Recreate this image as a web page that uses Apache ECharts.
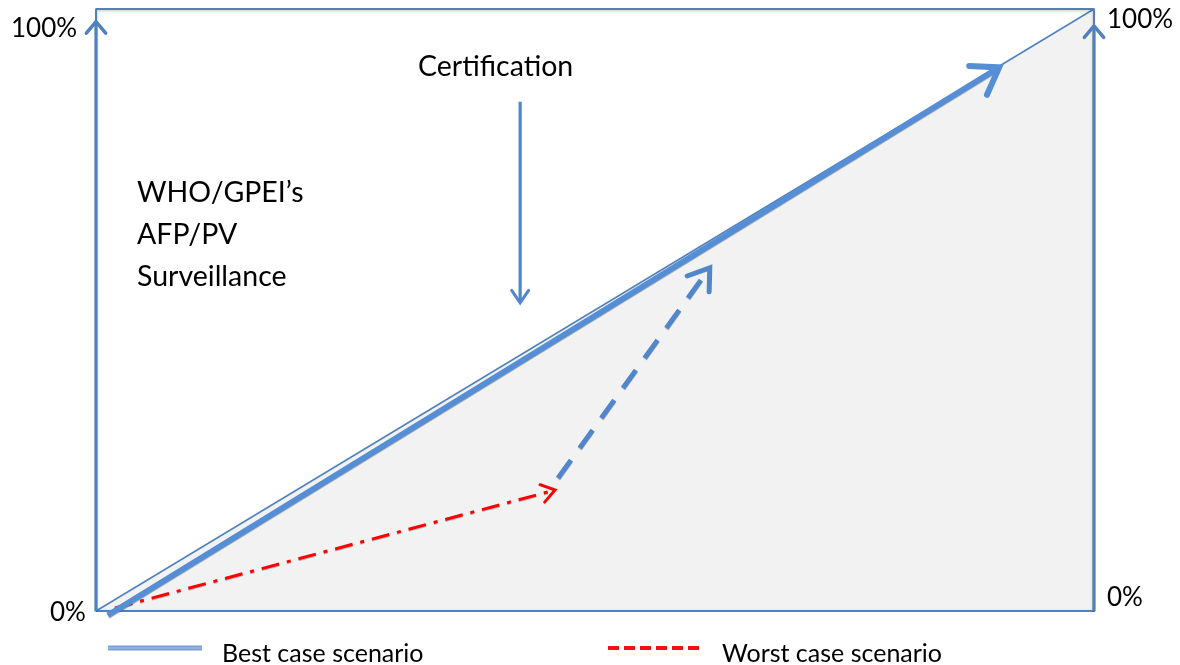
<!DOCTYPE html>
<html>
<head>
<meta charset="utf-8">
<script src="https://cdn.jsdelivr.net/npm/echarts@6/dist/echarts.min.js"></script>
<style>
html,body{margin:0;padding:0;background:#fff;}
#chart{width:1180px;height:665px;}
</style>
</head>
<body>
<div id="chart"></div>
<script>
// ---- data (percent scale, 0..100 on both axes) ----
const yTickLabels = ['0%', '100%'];
const frame = [[0, 0], [100, 0], [100, 100], [0, 100], [0, 0]];
const diagonal = [[0, 0], [100, 100]];
const axisArrows = [[0, 0, 0, 97.9], [100, 0, 100, 97.2]];
const bestCase = [[1.2, -0.7, 90.5, 90.3]];
const worstCase = [[1.9, 0.5, 46.0, 20.1]];
const recovery = [[46.3, 22.1, 61.5, 57.0]];
const certificationArrow = [[42.5, 84.6, 42.5, 51.2]];
const annotationTexts = ['Certification', 'WHO/GPEI\u2019s\nAFP/PV\nSurveillance', 'MOH\u2019s VPD/\nIDSR/Other'];
const legendNames = ['Best case scenario', 'Worst case scenario'];

const FONT = 'Lato';

function arrowSeries(name, data, style) {
  return {
    type: 'custom',
    name: name,
    clip: false,
    silent: true,
    z: style.z || 5,
    data: data,
    encode: { x: [0, 2], y: [1, 3] },
    renderItem: function (params, api) {
      const p1 = api.coord([api.value(0), api.value(1)]);
      const p2 = api.coord([api.value(2), api.value(3)]);
      const a = Math.atan2(p2[1] - p1[1], p2[0] - p1[0]);
      const L = style.head, al = style.headAngle || 0.6;
      const h1 = [p2[0] - L * Math.cos(a - al), p2[1] - L * Math.sin(a - al)];
      const h2 = [p2[0] - L * Math.cos(a + al), p2[1] - L * Math.sin(a + al)];
      const sb = style.back || style.width * 0.8;
      const end = [p2[0] - sb * Math.cos(a), p2[1] - sb * Math.sin(a)];
      return {
        type: 'group',
        children: [
          {
            type: 'line',
            shape: { x1: p1[0], y1: p1[1], x2: end[0], y2: end[1] },
            style: {
              stroke: style.color, lineWidth: style.width,
              lineDash: style.dash || null, lineCap: style.cap || 'butt',
              shadowBlur: style.shadow || 0, shadowColor: 'rgba(0,0,0,0.25)', shadowOffsetY: 1
            }
          },
          {
            type: 'polyline',
            shape: { points: [h1, p2, h2] },
            style: {
              stroke: style.headColor || style.color, lineWidth: style.headWidth || style.width,
              fill: null, lineJoin: 'miter', lineCap: 'round'
            }
          }
        ]
      };
    }
  };
}

function txt(text, x, y, size, extra) {
  return {
    type: 'text', x: x, y: y, silent: true,
    style: Object.assign({ text: text, font: size + 'px ' + FONT, fill: '#000', align: 'left', verticalAlign: 'middle' }, extra || {})
  };
}

const chart = echarts.init(document.getElementById('chart'), null, { renderer: 'canvas' });

const option = {
  animation: false,
  backgroundColor: '#ffffff',
  grid: { left: 96, right: 86, top: 9, bottom: 54, show: false },
  xAxis: { type: 'value', min: 0, max: 100, show: false },
  yAxis: { type: 'value', min: 0, max: 100, show: false },
  series: [
    {
      type: 'line', name: 'area', data: diagonal, symbol: 'none', silent: true, z: 1,
      lineStyle: { color: '#4f81bd', width: 1.5 },
      areaStyle: { color: '#f2f2f2', opacity: 1, origin: 'start' }
    },
    {
      type: 'line', name: 'frame', data: frame, symbol: 'none', silent: true, z: 2,
      lineStyle: { color: '#4f81bd', width: 2, shadowBlur: 3, shadowColor: 'rgba(0,0,0,0.25)', shadowOffsetY: 1 }
    },
    arrowSeries('axes', axisArrows, { color: '#4f81bd', width: 3, head: 15, headAngle: 0.7, headWidth: 3.5, z: 3 }),
    arrowSeries(legendNames[0], bestCase, { color: '#558ed5', width: 6, head: 30, headAngle: 0.6, headWidth: 6, back: 3, z: 6 }),
    arrowSeries(legendNames[1], worstCase, { color: '#ff0000', width: 3, head: 16, headAngle: 0.6, headWidth: 3, dash: [18, 8, 4, 8], back: 2, z: 5 }),
    arrowSeries('recovery', recovery, { color: '#4f86cc', width: 5, head: 24, headAngle: 0.6, headWidth: 5, dash: [22, 15], back: 3, z: 5 }),
    arrowSeries('certification', certificationArrow, { color: '#4f86cc', width: 3, head: 15, headAngle: 0.6, headWidth: 3, back: 2, z: 5 })
  ],
  graphic: [
    txt(yTickLabels[1], 11, 29, 26),
    txt(yTickLabels[0], 50, 613, 26),
    txt(yTickLabels[1], 1107, 20, 26),
    txt(yTickLabels[0], 1107, 598, 26),
    txt(annotationTexts[0], 418, 67, 28.5),
    txt(annotationTexts[1], 137, 235, 28.5, { lineHeight: 42 }),
    txt(annotationTexts[2], 820, 493, 28.5, { lineHeight: 45 }),
    { type: 'line', silent: true, shape: { x1: 108, y1: 648, x2: 202, y2: 648 }, style: { stroke: '#7ba0d6', lineWidth: 5 } },
    { type: 'line', silent: true, shape: { x1: 108, y1: 648, x2: 202, y2: 648 }, style: { stroke: '#a9c2e6', lineWidth: 1 } },
    txt(legendNames[0], 222, 654, 25),
    { type: 'line', silent: true, shape: { x1: 608, y1: 648, x2: 702, y2: 648 }, style: { stroke: '#ee1111', lineWidth: 4, lineDash: [11, 5] } },
    txt(legendNames[1], 722, 654, 25)
  ]
};
chart.setOption(option);
</script>
</body>
</html>
